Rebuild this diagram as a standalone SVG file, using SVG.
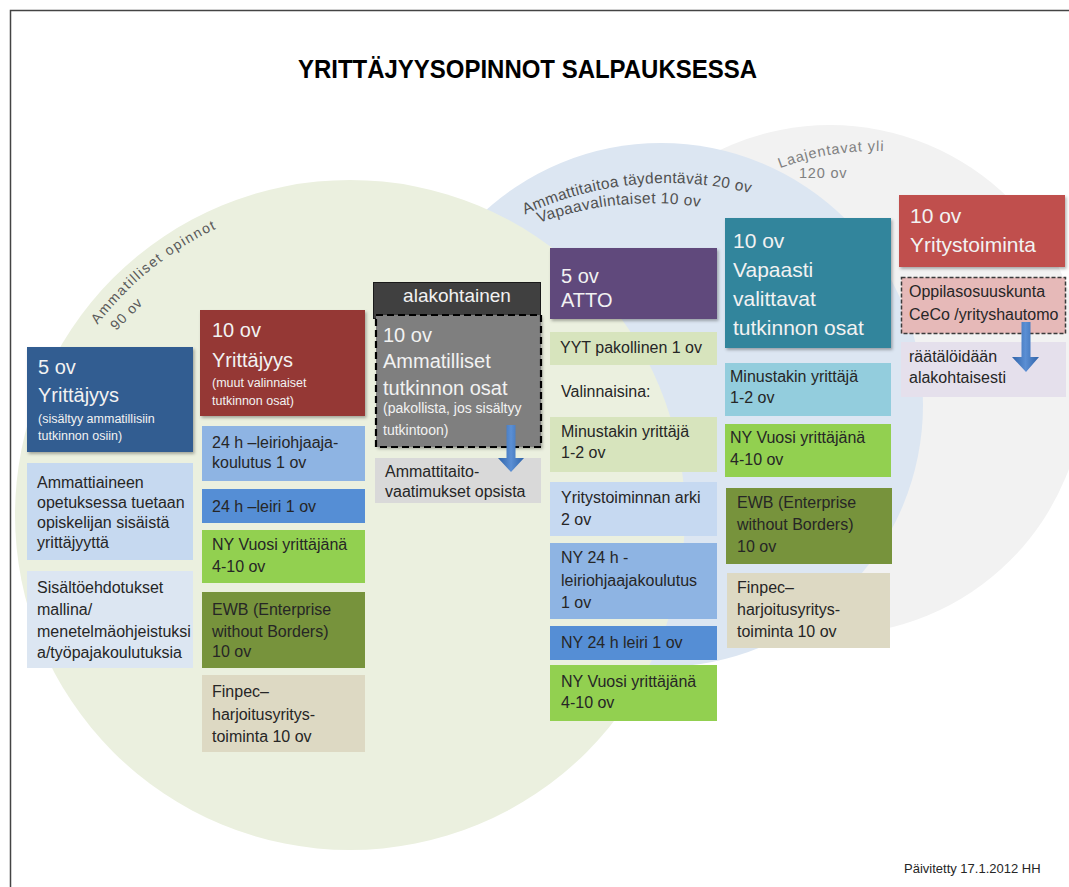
<svg xmlns="http://www.w3.org/2000/svg" xmlns:xlink="http://www.w3.org/1999/xlink" width="1069" height="887" viewBox="0 0 1069 887">
<style>
text { font-family: "Liberation Sans", Arial, sans-serif; }
.h { font-size: 20px; fill: #F2F2F2; }
.h21 { font-size: 21px; fill: #F2F2F2; }
.b { font-size: 16px; fill: #262626; }
.s { font-size: 12.5px; fill: #F2F2F2; }
.arc { font-size: 15.5px; fill: #505050; }
.hdr { filter: url(#sh); }
.arrow { fill: url(#ag); }
</style>
<defs>
<filter id="sh" x="-5%" y="-5%" width="115%" height="125%">
<feDropShadow dx="1.5" dy="2" stdDeviation="1.5" flood-color="#000" flood-opacity="0.3"/>
</filter>
<linearGradient id="ag" x1="0" y1="0" x2="1" y2="0">
<stop offset="0" stop-color="#2F63A8"/>
<stop offset="0.5" stop-color="#5B8FD4"/>
<stop offset="1" stop-color="#2F63A8"/>
</linearGradient>
<path id="pGreen1" d="M 97.6 324.8 A 316 316 0 0 1 268.2 209.8"/>
<path id="pBlue1" d="M 525 214.5 A 340 340 0 0 1 789.8 205.6"/>
<path id="pBlue2" d="M 539 223 A 330 330 0 0 1 730.8 213"/>
<path id="pGrey1" d="M 780 168.3 A 270 270 0 0 1 910.2 153.3"/>
</defs>

<rect x="0" y="0" width="1069" height="887" fill="#FFFFFF"/>
<rect x="10.5" y="10.5" width="1080" height="900" fill="none" stroke="#444444" stroke-width="1.5"/>

<g id="background-circles">
<circle cx="830" cy="380" r="255" fill="#F2F2F2"/>
<circle cx="661" cy="405" r="262" fill="#DCE6F2"/>
<circle cx="350" cy="515" r="335" fill="#EBF0DF"/>
</g>

<g id="circle-labels">
<text class="arc" style="font-size:14px;letter-spacing:1.5px;fill:#595959"><textPath xlink:href="#pGreen1" href="#pGreen1">Ammatilliset opinnot</textPath></text>
<text class="arc" style="font-size:14px;letter-spacing:1px;fill:#595959" transform="translate(116,331) rotate(-45)">90 ov</text>
<text class="arc" style="letter-spacing:0.3px"><textPath xlink:href="#pBlue1" href="#pBlue1">Ammattitaitoa täydentävät 20 ov</textPath></text>
<text class="arc" style="letter-spacing:0.4px"><textPath xlink:href="#pBlue2" href="#pBlue2">Vapaavalintaiset 10 ov</textPath></text>
<text class="arc" style="font-size:14.5px;letter-spacing:0.9px;fill:#808080"><textPath xlink:href="#pGrey1" href="#pGrey1">Laajentavat yli</textPath></text>
<text class="arc" x="799" y="178" style="font-size:14.5px;letter-spacing:0.8px;fill:#808080">120 ov</text>
</g>

<g id="title">
<text x="298" y="78" font-size="25" font-weight="bold" fill="#000" textLength="459" lengthAdjust="spacingAndGlyphs">YRITTÄJYYSOPINNOT SALPAUKSESSA</text>
</g>

<!-- Column 1 -->
<g id="n-yrittajyys5">
<rect class="hdr" x="27" y="347" width="166" height="105" fill="#335D91"/>
<text class="h" x="38" y="374">5 ov</text>
<text class="h" x="38" y="402">Yrittäjyys</text>
<text class="s" x="38" y="423">(sisältyy ammatillisiin</text>
<text class="s" x="38" y="440">tutkinnon osiin)</text>
</g>
<g id="n-ammattiaine">
<rect x="27" y="463" width="166" height="97" fill="#C6D9F0"/>
<text class="b" x="37" y="488">Ammattiaineen</text>
<text class="b" x="37" y="508">opetuksessa tuetaan</text>
<text class="b" x="37" y="528">opiskelijan sisäistä</text>
<text class="b" x="37" y="548">yrittäjyyttä</text>
</g>
<g id="n-sisaltoehdotukset">
<rect x="27" y="571" width="166" height="97" fill="#DCE6F2"/>
<text class="b" x="37" y="593">Sisältöehdotukset</text>
<text class="b" x="37" y="615">mallina/</text>
<text class="b" x="37" y="637">menetelmäohjeistuksi</text>
<text class="b" x="37" y="658">a/työpajakoulutuksia</text>
</g>

<!-- Column 2 -->
<g id="n-yrittajyys10">
<rect class="hdr" x="200" y="310" width="165" height="106" fill="#953735"/>
<text class="h" x="212" y="337">10 ov</text>
<text class="h" x="212" y="367">Yrittäjyys</text>
<text class="s" x="212" y="387">(muut valinnaiset</text>
<text class="s" x="212" y="405">tutkinnon osat)</text>
</g>
<g id="n-leiriohjaaja">
<rect x="202" y="426" width="163" height="55" fill="#8EB4E3"/>
<text class="b" x="212" y="448">24 h –leiriohjaaja-</text>
<text class="b" x="212" y="468">koulutus 1 ov</text>
</g>
<g id="n-leiri">
<rect x="202" y="489" width="163" height="34" fill="#558ED5"/>
<text class="b" x="212" y="512">24 h –leiri 1 ov</text>
</g>
<g id="n-nyvuosi1">
<rect x="202" y="530" width="163" height="53" fill="#92D050"/>
<text class="b" x="212" y="550">NY Vuosi yrittäjänä</text>
<text class="b" x="212" y="572">4-10 ov</text>
</g>
<g id="n-ewb1">
<rect x="202" y="592" width="163" height="76" fill="#77933C"/>
<text class="b" x="212" y="615">EWB (Enterprise</text>
<text class="b" x="212" y="637">without Borders)</text>
<text class="b" x="212" y="657">10 ov</text>
</g>
<g id="n-finpec1">
<rect x="202" y="675" width="163" height="77" fill="#DDD9C3"/>
<text class="b" x="212" y="697">Finpec–</text>
<text class="b" x="212" y="720">harjoitusyritys-</text>
<text class="b" x="212" y="742">toiminta 10 ov</text>
</g>

<!-- Column 3 -->
<g id="n-alakohtainen">
<rect x="373.5" y="282.5" width="167" height="36" fill="#404040" stroke="#1A1A1A" stroke-width="1"/>
<text x="457" y="302" text-anchor="middle" style="font-size:19px;fill:#F2F2F2">alakohtainen</text>
</g>
<g id="n-ammatilliset">
<rect class="hdr" x="376" y="315" width="165" height="132" fill="#7F7F7F"/>
<rect x="376" y="315" width="165" height="132" fill="none" stroke="#000" stroke-width="2.2" stroke-dasharray="7 4"/>
<text class="h" x="383" y="342">10 ov</text>
<text class="h" x="383" y="368">Ammatilliset</text>
<text class="h" x="383" y="395">tutkinnon osat</text>
<text class="s" x="383" y="413" style="font-size:14px">(pakollista, jos sisältyy</text>
<text class="s" x="383" y="435" style="font-size:14px">tutkintoon)</text>
</g>
<g id="n-ammattitaitovaatimukset">
<rect x="375" y="458" width="166" height="45" fill="#D9D9D9"/>
<text class="b" x="385" y="477">Ammattitaito-</text>
<text class="b" x="385" y="497">vaatimukset opsista</text>
</g>

<!-- Column 4 -->
<g id="n-atto">
<rect class="hdr" x="550" y="248" width="167" height="71" fill="#604A7B"/>
<text class="h" x="561" y="283">5 ov</text>
<text class="h" x="561" y="307">ATTO</text>
</g>
<g id="n-yyt">
<rect x="550" y="332" width="167" height="33" fill="#D7E4BD"/>
<text class="b" x="560" y="353">YYT pakollinen 1 ov</text>
</g>
<g id="n-valinnaisina">
<text class="b" x="561" y="397">Valinnaisina:</text>
</g>
<g id="n-minustakin1">
<rect x="550" y="417" width="167" height="55" fill="#D7E4BD"/>
<text class="b" x="561" y="437">Minustakin yrittäjä</text>
<text class="b" x="561" y="458">1-2 ov</text>
</g>
<g id="n-arki">
<rect x="550" y="482" width="167" height="54" fill="#C6D9F1"/>
<text class="b" x="561" y="503">Yritystoiminnan arki</text>
<text class="b" x="561" y="525">2 ov</text>
</g>
<g id="n-ny24koulutus">
<rect x="550" y="543" width="167" height="76" fill="#8EB4E3"/>
<text class="b" x="561" y="563">NY 24 h -</text>
<text class="b" x="561" y="586">leiriohjaajakoulutus</text>
<text class="b" x="561" y="608">1 ov</text>
</g>
<g id="n-ny24leiri">
<rect x="550" y="626" width="167" height="34" fill="#558ED5"/>
<text class="b" x="561" y="648">NY 24 h leiri 1 ov</text>
</g>
<g id="n-nyvuosi2">
<rect x="550" y="665" width="167" height="56" fill="#92D050"/>
<text class="b" x="561" y="687">NY Vuosi yrittäjänä</text>
<text class="b" x="561" y="708">4-10 ov</text>
</g>

<!-- Column 5 -->
<g id="n-vapaasti">
<rect class="hdr" x="725" y="218" width="166" height="130" fill="#31859C"/>
<text class="h21" x="733" y="248">10 ov</text>
<text class="h21" x="733" y="277">Vapaasti</text>
<text class="h21" x="733" y="306">valittavat</text>
<text class="h21" x="733" y="335">tutkinnon osat</text>
</g>
<g id="n-minustakin2">
<rect x="725" y="363" width="166" height="53" fill="#93CDDD"/>
<text class="b" x="730" y="382">Minustakin yrittäjä</text>
<text class="b" x="730" y="403">1-2 ov</text>
</g>
<g id="n-nyvuosi3">
<rect x="725" y="424" width="166" height="53" fill="#92D050"/>
<text class="b" x="730" y="443">NY Vuosi yrittäjänä</text>
<text class="b" x="730" y="465">4-10 ov</text>
</g>
<g id="n-ewb2">
<rect x="726" y="488" width="166" height="76" fill="#77933C"/>
<text class="b" x="737" y="508">EWB (Enterprise</text>
<text class="b" x="737" y="530">without Borders)</text>
<text class="b" x="737" y="552">10 ov</text>
</g>
<g id="n-finpec2">
<rect x="727" y="573" width="163" height="75" fill="#DDD9C3"/>
<text class="b" x="737" y="593">Finpec–</text>
<text class="b" x="737" y="615">harjoitusyritys-</text>
<text class="b" x="737" y="637">toiminta 10 ov</text>
</g>

<!-- Column 6 -->
<g id="n-yritystoiminta">
<rect class="hdr" x="899" y="195" width="166" height="72" fill="#C0504D"/>
<text class="h21" x="910" y="223">10 ov</text>
<text class="h21" x="910" y="252">Yritystoiminta</text>
</g>
<g id="n-oppilasosuuskunta">
<rect x="901.5" y="277.5" width="164" height="56" fill="#E6B9B8" stroke="#3B3B3B" stroke-width="1.5" stroke-dasharray="4 2"/>
<text class="b" x="909" y="297">Oppilasosuuskunta</text>
<text class="b" x="909" y="320">CeCo /yrityshautomo</text>
</g>
<g id="n-raatalointi">
<rect x="901" y="342" width="165" height="55" fill="#E5E0EC"/>
<text class="b" x="909" y="362">räätälöidään</text>
<text class="b" x="909" y="383">alakohtaisesti</text>
</g>

<g id="connectors">
<path class="arrow" d="M 506.5 425 L 515.5 425 L 515.5 458 L 524 458 L 511 472 L 498 458 L 506.5 458 Z"/>
<path class="arrow" d="M 1021.5 322 L 1030.5 322 L 1030.5 357 L 1039 357 L 1026 372 L 1012 357 L 1021.5 357 Z"/>
</g>

<g id="footer">
<text x="904" y="873" style="font-size:13px;fill:#262626">Päivitetty 17.1.2012 HH</text>
</g>
</svg>
